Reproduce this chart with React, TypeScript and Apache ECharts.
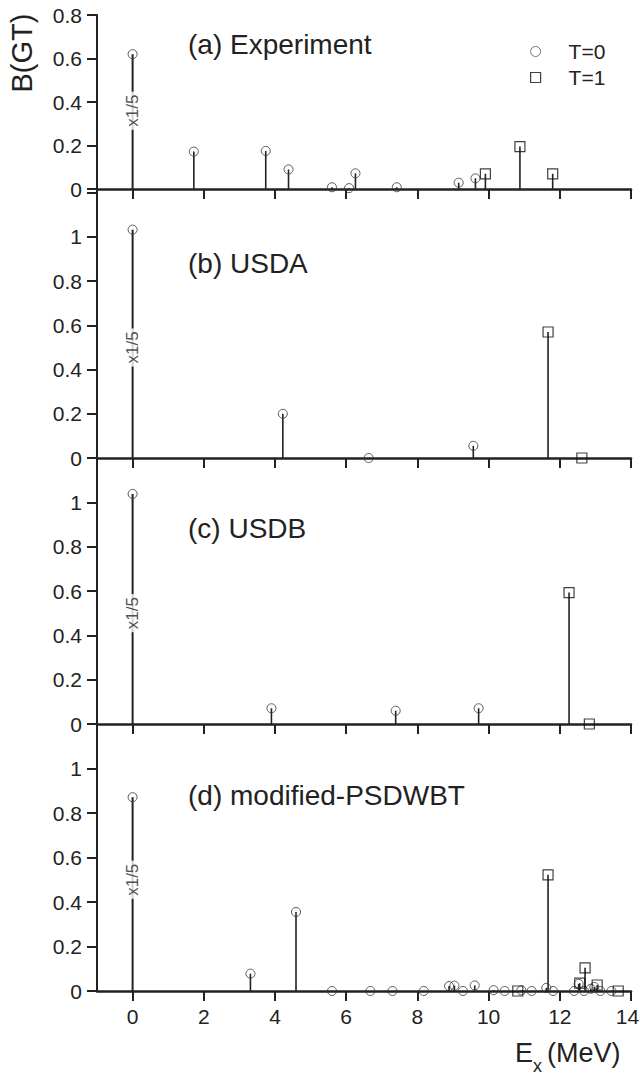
import React, { useEffect, useRef } from "react";
import * as echarts from "echarts";

// ---- data ----
const xTicks = [0, 2, 4, 6, 8, 10, 12, 14];
const panelTitles = ["(a) Experiment", "(b) USDA", "(c) USDB", "(d) modified-PSDWBT"];
const yMax = [0.8, 1.217, 1.2, 1.2];
const scaleNoteY = [0.36, 0.5, 0.5, 0.5];
const scaleNote = "x1/5";

const expT0 = [[0, 0.62], [1.72, 0.172], [3.74, 0.175], [4.38, 0.09], [5.6, 0.008], [6.08, 0.004], [6.26, 0.072], [7.42, 0.008], [9.16, 0.029], [9.63, 0.049]];
const expT1 = [[9.91, 0.07], [10.88, 0.195], [11.8, 0.07]];
const usdaT0 = [[0, 1.033], [4.22, 0.2], [6.63, 0], [9.57, 0.055]];
const usdaT1 = [[11.67, 0.57], [12.62, 0]];
const usdbT0 = [[0, 1.038], [3.9, 0.071], [7.39, 0.06], [9.72, 0.071]];
const usdbT1 = [[12.26, 0.593], [12.83, 0]];
const psdT0 = [[0, 0.871], [3.31, 0.078], [4.59, 0.355], [5.6, 0], [6.68, 0], [7.3, 0], [8.18, 0], [8.89, 0.022], [9.04, 0.024], [9.28, 0], [9.61, 0.025], [10.14, 0.004], [10.45, 0], [10.92, 0.003], [11.21, 0], [11.62, 0.014], [11.81, 0], [12.4, 0], [12.53, 0.032], [12.68, 0], [12.87, 0.01], [12.97, 0.018], [13.14, 0], [13.45, 0]];
const psdT1 = [[10.82, 0], [11.67, 0.522], [12.56, 0.035], [12.71, 0.104], [13.05, 0.027], [13.64, 0]];

const panelsT0 = [expT0, usdaT0, usdbT0, psdT0];
const panelsT1 = [expT1, usdaT1, usdbT1, psdT1];

// ---- layout ----
const FONT = "Liberation Sans, Arial, Helvetica, sans-serif";
const INK = "#222";
const grids = [
  { top: 15, height: 174 },
  { top: 189, height: 269 },
  { top: 458, height: 266 },
  { top: 724, height: 267 },
];
const titleY = [44, 263, 528, 795];

export default function App() {
  const ref = useRef<HTMLDivElement>(null);
  useEffect(() => {
    if (!ref.current) return;
    const chart = echarts.init(ref.current, null, { renderer: "svg" });

    const series: any[] = [];
    panelsT0.forEach((t0, i) => {
      const t1 = panelsT1[i];
      series.push({
        type: "custom",
        name: "stems" + i,
        xAxisIndex: i,
        yAxisIndex: i,
        z: 2,
        silent: true,
        encode: { x: 0, y: 1 },
        data: t0.concat(t1),
        renderItem: (params: any, api: any) => {
          const x = api.value(0);
          const y = api.value(1);
          const p0 = api.coord([x, 0]);
          const p1 = api.coord([x, y]);
          return {
            type: "line",
            shape: { x1: p0[0], y1: p0[1], x2: p1[0], y2: p1[1] },
            style: { stroke: INK, lineWidth: x === 0 ? 2 : 1.6 },
          };
        },
      });
      series.push({
        type: "scatter",
        name: "T=0",
        xAxisIndex: i,
        yAxisIndex: i,
        z: 3,
        symbol: "circle",
        symbolSize: 9,
        itemStyle: { color: "rgba(255,255,255,0)", borderColor: "#333", borderWidth: 1 },
        data: t0,
      });
      series.push({
        type: "scatter",
        name: "T=1",
        xAxisIndex: i,
        yAxisIndex: i,
        z: 3,
        symbol: "rect",
        symbolSize: 10,
        itemStyle: { color: "rgba(255,255,255,0)", borderColor: "#111", borderWidth: 1.2 },
        data: t1,
      });
      series.push({
        type: "scatter",
        name: "note" + i,
        xAxisIndex: i,
        yAxisIndex: i,
        z: 4,
        silent: true,
        symbolSize: 1,
        itemStyle: { color: "rgba(255,255,255,0)" },
        label: {
          show: true,
          position: "inside",
          formatter: scaleNote,
          rotate: 90,
          fontSize: 17,
          fontFamily: FONT,
          color: INK,
          backgroundColor: "#fff",
          padding: [0, 3],
        },
        data: [[0, scaleNoteY[i]]],
      });
    });

    const graphic: any[] = panelTitles.map((t, i) => ({
      type: "text",
      x: 188,
      y: titleY[i],
      style: { text: t, font: `28px ${FONT}`, fill: INK, align: "left", verticalAlign: "middle" },
    }));
    graphic.push({
      type: "text",
      x: 22,
      y: 53,
      rotation: Math.PI / 2,
      style: { text: "B(GT)", font: `29px ${FONT}`, fill: INK, align: "center", verticalAlign: "middle" },
    });
    graphic.push({
      type: "text",
      x: 515,
      y: 1053,
      style: { text: "E", font: `27px ${FONT}`, fill: INK, align: "left", verticalAlign: "middle" },
    });
    graphic.push({
      type: "text",
      x: 533,
      y: 1066,
      style: { text: "x", font: `18px ${FONT}`, fill: INK, align: "left", verticalAlign: "middle" },
    });
    graphic.push({
      type: "text",
      x: 547,
      y: 1053,
      style: { text: "(MeV)", font: `27px ${FONT}`, fill: INK, align: "left", verticalAlign: "middle" },
    });

    chart.setOption({
      animation: false,
      backgroundColor: "#fff",
      textStyle: { fontFamily: FONT },
      grid: grids.map((g) => ({ left: 97, right: 9, top: g.top, height: g.height, outerBoundsMode: "none", containLabel: false })),
      xAxis: grids.map((g, i) => ({
        type: "value",
        gridIndex: i,
        min: -1,
        max: 14,
        interval: 1,
        axisLine: { show: true, onZero: false, lineStyle: { color: INK, width: 2.5 } },
        axisTick: { show: true, inside: false, length: 10, customValues: xTicks, lineStyle: { color: INK, width: 2 } },
        axisLabel: {
          show: i === 3,
          customValues: xTicks,
          fontSize: 21,
          margin: 15,
          color: INK,
          fontFamily: FONT,
          formatter: (v: number) => (v === 14 ? "{e|14}" : String(v)),
          rich: { e: { fontSize: 21, color: INK, fontFamily: FONT, padding: [0, 7, 0, 0] } },
        },
        splitLine: { show: false },
      })),
      yAxis: grids.map((g, i) => ({
        type: "value",
        gridIndex: i,
        min: 0,
        max: yMax[i],
        interval: 0.2,
        axisLine: { show: true, onZero: false, lineStyle: { color: INK, width: 2 } },
        axisTick: { show: true, inside: false, length: 10, lineStyle: { color: INK, width: 2 } },
        axisLabel: {
          fontSize: 21,
          margin: 15,
          color: INK,
          fontFamily: FONT,
          showMaxLabel: i === 0,
          formatter: (v: number) => {
            const lim = i === 0 ? 0.81 : 1.05;
            if (v > lim) return "";
            return String(Math.round(v * 10) / 10);
          },
        },
        splitLine: { show: false },
      })),
      legend: {
        orient: "vertical",
        left: 530,
        top: 41,
        padding: 0,
        itemWidth: 10,
        itemHeight: 10,
        itemGap: 5,
        selectedMode: false,
        textStyle: { fontSize: 21, color: INK, fontFamily: FONT, padding: [0, 0, 0, 23] },
        data: [
          { name: "T=0", icon: "circle", itemStyle: { color: "#fff", borderColor: "#555", borderWidth: 1 } },
          { name: "T=1", icon: "rect", itemStyle: { color: "#fff", borderColor: "#111", borderWidth: 1.2 } },
        ],
      },
      graphic,
      series,
    });

    return () => chart.dispose();
  }, []);

  return (
    <div
      ref={ref}
      style={{ position: "absolute", left: 0, top: 0, width: 640, height: 1076, background: "#fff" }}
    />
  );
}
